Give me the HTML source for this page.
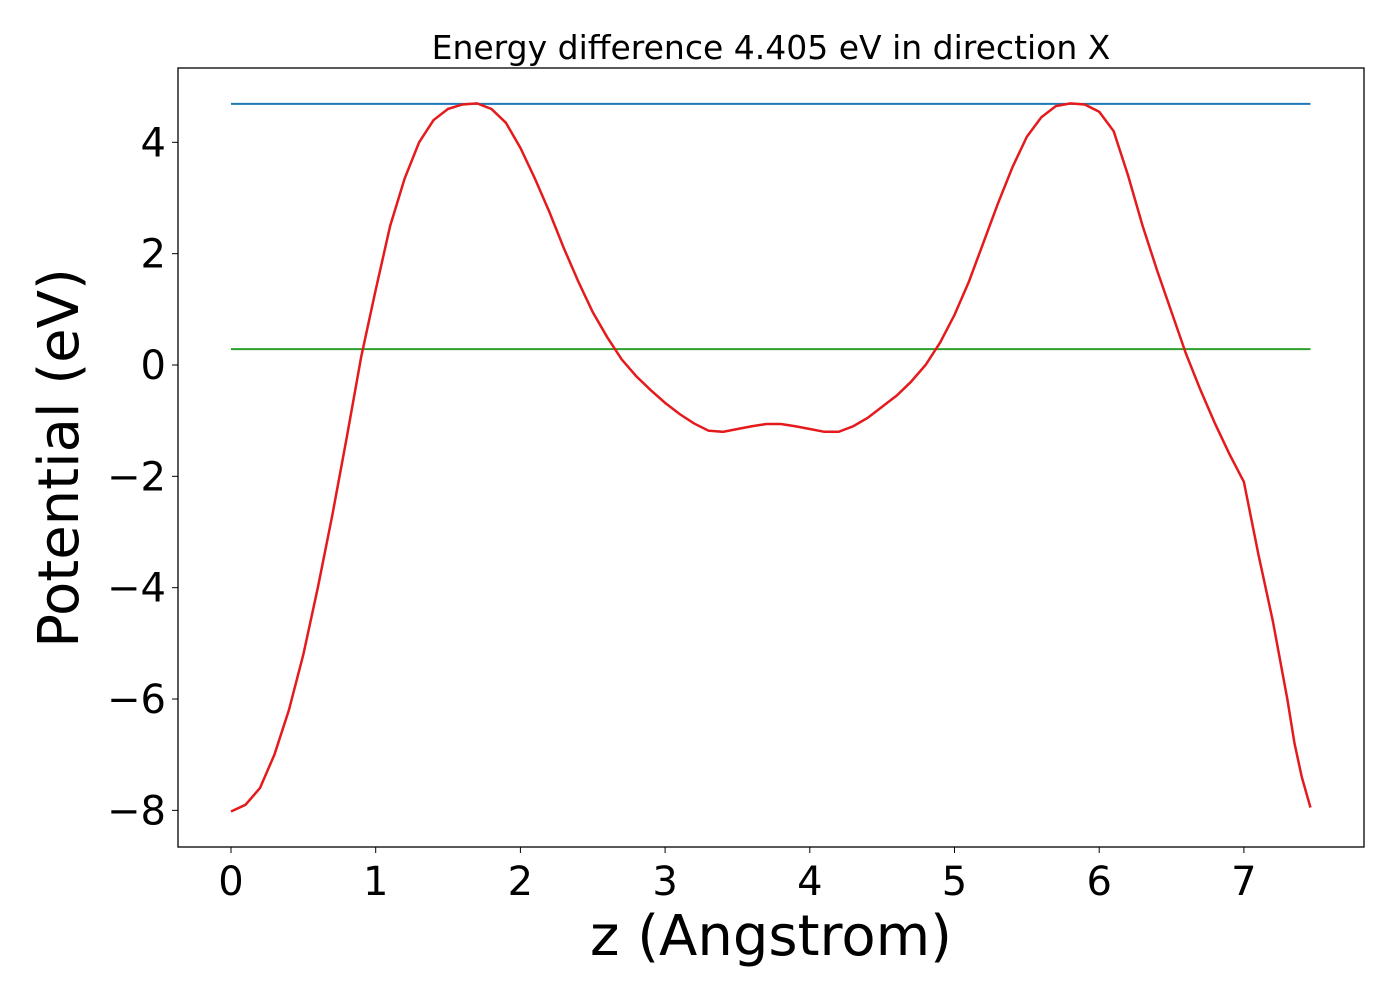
<!DOCTYPE html>
<html><head><meta charset="utf-8"><style>
body{margin:0;background:#fff;}
svg text{font-family:"DejaVu Sans","Liberation Sans",sans-serif;}
</style></head><body>
<svg id="chart" width="1400" height="1000" viewBox="0 0 1400 1000" xmlns="http://www.w3.org/2000/svg">
<rect width="1400" height="1000" fill="#fff"/>
<text x="771" y="59" font-size="33" text-anchor="middle">Energy difference 4.405 eV in direction X</text>
<g id="lines"></g>
<rect x="178" y="68" width="1186" height="779" fill="none" stroke="#000" stroke-width="1.3"/>
<g id="ticks"></g>
<text x="771" y="955" font-size="56" text-anchor="middle">z (Angstrom)</text>
<text transform="translate(78,458) rotate(-90)" font-size="56" text-anchor="middle">Potential (eV)</text>
</svg>
<script>
const zValues=[0,0.1,0.2,0.3,0.4,0.5,0.6,0.7,0.8,0.9,1.0,1.1,1.2,1.3,1.4,1.5,1.6,1.7,1.8,1.9,2.0,2.1,2.2,2.3,2.4,2.5,2.6,2.7,2.8,2.9,3.0,3.1,3.2,3.3,3.4,3.5,3.6,3.7,3.8,3.9,4.0,4.1,4.2,4.3,4.4,4.5,4.6,4.7,4.8,4.9,5.0,5.1,5.2,5.3,5.4,5.5,5.6,5.7,5.8,5.9,6.0,6.1,6.2,6.3,6.4,6.5,6.6,6.7,6.8,6.9,7.0,7.1,7.2,7.3,7.35,7.4,7.46];
const potential=[-8.02,-7.9,-7.6,-7.0,-6.2,-5.2,-4.0,-2.7,-1.3,0.15,1.35,2.5,3.35,4.0,4.4,4.6,4.68,4.7,4.6,4.35,3.9,3.35,2.75,2.1,1.5,0.95,0.5,0.1,-0.2,-0.45,-0.68,-0.88,-1.05,-1.18,-1.2,-1.15,-1.1,-1.06,-1.06,-1.1,-1.15,-1.2,-1.2,-1.1,-0.95,-0.75,-0.55,-0.3,0.0,0.4,0.9,1.5,2.2,2.9,3.55,4.1,4.45,4.65,4.7,4.68,4.55,4.2,3.4,2.5,1.7,0.95,0.2,-0.45,-1.05,-1.6,-2.1,-3.4,-4.6,-6.0,-6.8,-7.4,-7.95];
const vacuumLevel=[4.69];
const fermiLevel=[0.285];
const xTicks=[0,1,2,3,4,5,6,7];
const yTicks=[4,2,0,-2,-4,-6,-8];
const X=v=>231+v*144.7;
const Y=v=>365-v*55.67;
const NS="http://www.w3.org/2000/svg";
const lines=document.getElementById('lines');
const ticks=document.getElementById('ticks');
function hline(val,color,name){
  const l=document.createElementNS(NS,'line');
  l.setAttribute('x1',X(0));l.setAttribute('x2',X(7.46));
  l.setAttribute('y1',Y(val));l.setAttribute('y2',Y(val));
  l.setAttribute('stroke',color);l.setAttribute('stroke-width','2');
  
  
  lines.appendChild(l);
}
hline(vacuumLevel[0],'#1f77b4','vacuum-level-line');
hline(fermiLevel[0],'#2ca02c','fermi-level-line');
const p=document.createElementNS(NS,'polyline');
p.setAttribute('points',zValues.map((z,i)=>X(z)+','+Y(potential[i])).join(' '));
p.setAttribute('fill','none');p.setAttribute('stroke','#e41a1c');p.setAttribute('stroke-width','2.5');


lines.appendChild(p);
xTicks.forEach(t=>{
  const l=document.createElementNS(NS,'line');
  l.setAttribute('x1',X(t));l.setAttribute('x2',X(t));l.setAttribute('y1',847);l.setAttribute('y2',853);l.setAttribute('stroke','#000');
  
  
  ticks.appendChild(l);
  const tx=document.createElementNS(NS,'text');
  tx.setAttribute('x',X(t));tx.setAttribute('y',895);tx.setAttribute('font-size','40');tx.setAttribute('text-anchor','middle');
  tx.textContent=t;
  
  
  ticks.appendChild(tx);
});
yTicks.forEach(t=>{
  const l=document.createElementNS(NS,'line');
  l.setAttribute('x1',172);l.setAttribute('x2',178);l.setAttribute('y1',Y(t));l.setAttribute('y2',Y(t));l.setAttribute('stroke','#000');
  
  
  ticks.appendChild(l);
  const tx=document.createElementNS(NS,'text');
  tx.setAttribute('x',166);tx.setAttribute('y',Y(t)+14);tx.setAttribute('font-size','40');tx.setAttribute('text-anchor','end');
  tx.textContent=t<0?'\u2212'+(-t):String(t);
  
  
  ticks.appendChild(tx);
});
</script>
</body></html>
